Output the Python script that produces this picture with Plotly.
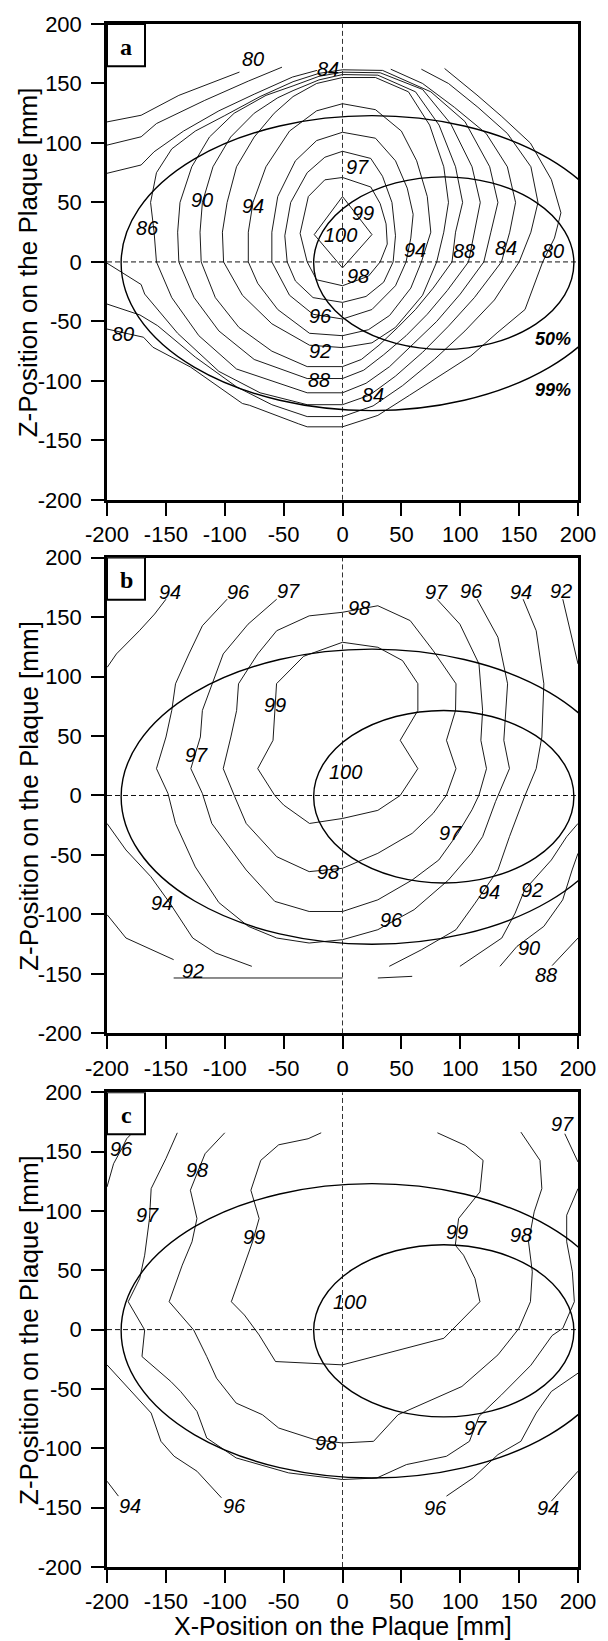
import plotly.graph_objects as go

# ---------------- data (positions in mm on the plaque) ----------------
TICKS = [-200, -150, -100, -50, 0, 50, 100, 150, 200]
TICK_LABELS = ["-200", "-150", "-100", "-50", "0", "50", "100", "150", "200"]

# isodose ellipses (centre x, centre z, half-width, half-height)
ELL99 = (25, -1, 213, 124)
ELL50 = (86, -1, 110.5, 72.5)

# ---- panel a contour lines ----
a99_x = [0, 25, 0, -24, 0]
a99_z = [55, 23, -5, 23, 55]
a98_x = [0, 24, 32, 37, 38, 32, 22, 0, -22, -30, -36, -29, -15, 0]
a98_z = [71, 63, 49, 32, 15, 0, -12, -20, -15, 0, 24, 55, 69, 71]
a97_x = [0, 24, 34, 42, 45, 43, 35, 20, 0, -25, -40, -47, -49, -44, -30, -15, 0]
a97_z = [93, 87, 72, 50, 22, 0, -17, -29, -34, -30, -16, 0, 22, 50, 75, 88, 93]
a96_x = [0, 28, 45, 55, 60, 58, 54, 45, 25, 0, -25, -45, -60, -60, -55, -40, -22, 0]
a96_z = [109, 104, 85, 62, 40, 20, 0, -20, -40, -48, -44, -28, 0, 25, 55, 85, 102, 109]
a94_x = [0, 28, 50, 63, 72, 75, 67, 58, 40, 22, 0, -28, -55, -72, -80, -80, -76, -65, -45, -22, 0]
a94_z = [133, 128, 110, 85, 55, 25, 0, -22, -45, -57, -62, -60, -40, -18, 0, 25, 50, 80, 110, 127, 133]
a92_x = [0, -22, -42, -58, -75, -90, -98, -102, -101, -85, -60, -28, 0, 25, 45, 68, 80, 86, 90, 86, 74, 56, 28, 0]
a92_z = [155, 150, 139, 125, 105, 80, 50, 25, 0, -28, -52, -70, -72, -68, -55, -28, 0, 25, 50, 80, 115, 143, 155, 155]
a90_x = [0, -20, -42, -55, -75, -95, -110, -119, -121, -120, -108, -88, -60, -30, 0, 16, 31, 47, 62, 77, 93, 96, 102, 96, 82, 62, 30, 0]
a90_z = [157.5, 153, 144, 138, 125, 105, 80, 50, 25, 0, -30, -55, -75, -88, -88, -82, -70, -55, -40, -22, 0, 25, 50, 80, 115, 143, 157, 157.5]
a88_x = [0, -20, -42, -65, -92, -113, -128, -138, -140, -139, -126, -105, -75, -30, 0, 18, 35, 54, 72, 89, 107, 112, 117, 110, 92, 68, 32, 0]
a88_z = [159.5, 156, 148, 140, 125, 105, 80, 50, 25, 0, -30, -58, -82, -98, -98, -91, -78, -62, -44, -24, 0, 25, 50, 80, 116, 145, 159, 159.5]
a86_x = [0, -20, -42, -70, -100, -125, -145, -158, -163, -160, -158, -145, -122, -90, -30, 0, 20, 40, 60, 80, 100, 120, 126, 132, 125, 104, 75, 34, 0]
a86_z = [161.5, 158.5, 151.5, 139, 123, 110, 95, 75, 50, 25, 0, -30, -62, -90, -110, -110, -102, -88, -69, -50, -27, 0, 25, 50, 80, 118, 143, 161, 161.5]
a84u_x = [-200, -171, -160, -135, -105, -75, -42.5, -21.7]
a84u_z = [74.5, 81.5, 92.6, 110, 127, 141, 155.4, 161]
a84_x = [-200, -171, -168, -140, -105, -70, -30, 0, 23, 45, 68, 90, 112, 135, 142, 147, 140, 122, 95, 68, 41]
a84_z = [-1, -19, -27, -60, -92, -110, -120, -120, -112, -96, -76, -54, -30, 0, 25, 50, 80, 108, 130, 150, 162]
a82u_x = [-200, -171, -158, -117, -80, -51.4]
a82u_z = [98.2, 105.2, 116.3, 135.8, 152, 163.7]
a82_x = [-200, -172, -157, -125, -90, -60, -30, 0, 26, 51, 78, 104, 129, 150, 160, 166, 160, 140, 115, 90, 67]
a82_z = [-35.4, -44.6, -53.6, -80, -105, -120, -130, -130, -121, -104, -82, -58, -32, 0, 25, 50, 80, 108, 130, 150, 162]
a80u_x = [-200, -171, -139, -110, -87.5]
a80u_z = [117.7, 123.3, 140, 151, 159.6]
a80_x = [-200, -176, -169, -161, -129, -85, -79, -37.5, -30, 0, 30, 57, 84, 109, 132, 155, 170, 180, 185.5, 177.4, 159.6, 135.3, 114.2, 86.7]
a80_z = [-56.4, -62, -63.3, -71.7, -88.4, -119, -120.5, -136, -138.6, -138.6, -129, -112, -95, -79, -59, -40, 0, 20, 41.3, 69.2, 99.9, 122.2, 140.3, 162.6]

a_lab_text = ["80", "84", "90", "94", "86", "97", "99", "100", "94", "88", "84", "80", "98", "96", "92", "88", "84", "80"]
a_lab_x = [-76.4, -12, -119.4, -76.4, -165.3, 13, 17.2, -1.4, 61.7, 103.3, 138.5, 179, 13, -18.9, -18.9, -20.3, 25.6, -186.1]
a_lab_z = [170.7, 162.3, 52.2, 46.6, 28.5, 80, 41, 22.9, 10.3, 9, 12, 9.2, -11.7, -45.2, -74.5, -99.6, -112.2, -60.5]

# ---- panel b contour lines ----
b99_x = [0, 30, 51, 64, 64, 49, 64, 49, 30, 0, -28, -50, -57.5, -72, -59, -57.5, -56, -33, 0]
b99_z = [128.8, 124.6, 113.4, 94, 71.5, 46.4, 22.6, 0, -12.5, -19.3, -23.5, -8, 0, 22.6, 46.4, 71.5, 94, 117, 128.8]
b98_x = [0, 30, 57.5, 77, 96.4, 96, 88.3, 96.4, 88.3, 77, 59.2, 30, 0, -28.3, -55.9, -81.8, -91.5, -101.3, -94.8, -89.9, -88.3, -72, -55.9, -28.3, 0]
b98_z = [154, 159.5, 147, 121.8, 93.9, 71.5, 46.4, 22.6, 0.3, -15, -31.8, -48.6, -61.2, -64, -51.4, -23.5, -1, 22.6, 49.2, 71.5, 93.9, 119, 138.5, 151, 154]
b97_x = [-55.9, -80.2, -101.3, -111, -119, -120.7, -128.8, -119, -111, -95, -81.8, -57.5, -28.3, 0, 30, 59.2, 81.8, 98, 110, 115.9, 122.3, 117.5, 119, 115.9, 99.7, 80.2]
b97_z = [165, 144, 119, 93.9, 71.5, 49.2, 22.6, 1.7, -23.5, -45, -62.6, -89, -97.5, -97.5, -87.7, -71, -54.2, -31.8, -12, 0.3, 22.6, 46.4, 71.5, 110.6, 144, 165]
b96_x = [-98, -119, -130.4, -141.8, -145, -149.9, -158, -148.2, -141.8, -125, -105, -80, -55.9, -28.3, 0, 30, 60.8, 90, 109.4, 119, 130, 141.8, 137, 138.5, 140.2, 132, 114.3]
b96_z = [165, 142.7, 119, 93.9, 71.5, 49.2, 22.6, 1.7, -23.5, -60, -90, -110, -119.8, -124, -121.2, -112.8, -96, -71, -48.6, -34.6, -5, 22.6, 46.4, 71.5, 93.9, 133, 165]
b94a_x = [-199.8, -192, -172.5, -159.6, -149.9]
b94a_z = [107.8, 119, 138.5, 152.5, 165]
b94b_x = [-200, -183.9, -162.8, -146.6, -127.2, -107.7, -77]
b94b_z = [-23.5, -45.8, -68.2, -90.5, -119.8, -132.4, -143.6]
b94c_x = [39.7, 67.2, 96.4, 112.6, 132, 141.8, 155, 164.5, 169.3, 171, 164.5, 153.4]
b94c_z = [-143.6, -129.6, -112.8, -90.5, -62.6, -34.6, 0, 22.6, 49.2, 93.9, 138.5, 165]
b92a_x = [187.1, 195, 200]
b92a_z = [165, 133, 110.6]
b92b_x = [-199.8, -183.9, -143.4]
b92b_z = [-100.3, -119.8, -138]
b92c_x = [-143.4, 0]
b92c_z = [-153.4, -153.4]
b92d_x = [30, 59.2]
b92d_z = [-153.4, -152]
b92e_x = [99.7, 119, 135.3, 146.6, 154.7, 177.4, 190.4, 200]
b92e_z = [-143.6, -131, -119.8, -98.9, -79.3, -54.2, -34.6, -23.5]
b90_x = [133.7, 148.2, 171, 187, 195, 200]
b90_z = [-143.6, -126.8, -110, -87.7, -62.6, -48.6]
b88_x = [178, 185.5, 200]
b88_z = [-143, -135.2, -119.8]

b_lab_text = ["94", "96", "97", "98", "97", "96", "94", "92", "99", "97", "100", "97", "98", "94", "92", "94", "96", "90", "88", "92"]
b_lab_x = [-146.6, -88.3, -46.2, 13.8, 80.2, 109.4, 151.5, 185.5, -57.5, -124, 2.4, 91.6, -12.2, 124, 161.2, -153.1, 41.3, 158, 172.6, -127.2]
b_lab_z = [170.7, 170.7, 172, 158, 170.7, 172, 170.7, 172, 75.7, 33.8, 19.8, -31.8, -64, -80.7, -79.3, -90.5, -104.5, -128.2, -150.6, -147.8]

# ---- panel c contour lines ----
c96a_x = [-200, -194.4, -187.5, -183.3, -177.8]
c96a_z = [120.2, 139.8, 152.4, 160.8, 166.4]
c97_x = [-140.3, -150, -162.5, -163.9, -168, -172.2, -182, -168, -170.3, -145.8, -137.5, -123.6, -115.3, -90.3, -45.8, 0, 29.2, 54.3, 88.3, 107.8, 115.9, 135, 160, 178, 187.1, 196.9, 195.2, 190.4, 190.4, 200]
c97_z = [165.8, 144, 118.8, 93.6, 62.7, 43.1, 23.5, -0.3, -22.7, -43.7, -52.1, -68.9, -91.3, -108.1, -120.7, -126.3, -125, -113.7, -106.7, -94.1, -73.1, -55, -30, -5, 1.1, 23.5, 48.7, 74, 96.4, 118.8]
c97b_x = [188.8, 200]
c97b_z = [165, 141.2]
c98_x = [-100, -116.7, -123.6, -129.2, -123.6, -127.8, -136.1, -147.2, -126.4, -115.3, -107, -90.3, -68, -54.2, -23.6, 0, 26.4, 47.2, 101.4, 132, 149.9, 159.6, 161.2, 158, 162.8, 169.3, 167.7, 151.5]
c98_z = [165.8, 148.2, 131.4, 117.4, 93.6, 74, 54.3, 23.5, -0.3, -22.7, -40.9, -61.9, -71.7, -82.9, -92.7, -95.5, -94.1, -71.7, -47.9, -21.3, 1.1, 23.5, 48.7, 74, 99.2, 118.8, 142.6, 166.4]
c99_x = [-18.1, -29.2, -54.2, -69.4, -77.8, -70.8, -76.4, -83.3, -94.4, -83.3, -70.8, -56.9, 0, 86.1, 102.8, 116.7, 112.5, 102.8, 95.8, 98.6, 116.7, 119.4, 104.2, 80.6]
c99_z = [165.8, 160.8, 155.7, 142.6, 117.4, 93.6, 74, 54.3, 23.5, 12.3, -4.5, -26.9, -29.7, -7.3, 9.5, 23.5, 43.1, 62.7, 71.1, 93.6, 116, 142.6, 155.2, 165.8]
c96b_x = [-200, -182, -162.5, -154.2, -143, -123.6, -102.8]
c96b_z = [-29.7, -49.3, -70.3, -94.1, -106.7, -119.3, -141.7]
c94a_x = [-200, -190.3]
c94a_z = [-127.7, -140.3]
c96c_x = [88.3, 111, 132, 151.5, 164.5, 177.4, 200]
c96c_z = [-140.3, -124.9, -105.3, -94.1, -70.3, -52.1, -36.7]
c94b_x = [177.4, 200]
c94b_z = [-144.5, -119.3]

c_lab_text = ["96", "98", "97", "99", "99", "98", "97", "100", "98", "97", "96", "94", "96", "94"]
c_lab_x = [-187.5, -123.6, -165.3, -75, 97.2, 151.5, 187.1, 5.6, -13.9, 112.6, -91.7, -180.6, 78.6, 174.2]
c_lab_z = [152.4, 134.2, 96.4, 78.2, 82.4, 79.6, 173.4, 23.5, -95.5, -82.9, -148.7, -148.7, -150.1, -150.1]

PANEL_LETTERS = ["a", "b", "c"]

# ---------------- figure ----------------
lines_a = [(a99_x, a99_z), (a98_x, a98_z), (a97_x, a97_z), (a96_x, a96_z), (a94_x, a94_z),
           (a92_x, a92_z), (a90_x, a90_z), (a88_x, a88_z), (a86_x, a86_z), (a84u_x, a84u_z),
           (a84_x, a84_z), (a82u_x, a82u_z), (a82_x, a82_z), (a80u_x, a80u_z), (a80_x, a80_z)]
lines_b = [(b99_x, b99_z), (b98_x, b98_z), (b97_x, b97_z), (b96_x, b96_z), (b94a_x, b94a_z),
           (b94b_x, b94b_z), (b94c_x, b94c_z), (b92a_x, b92a_z), (b92b_x, b92b_z), (b92c_x, b92c_z),
           (b92d_x, b92d_z), (b92e_x, b92e_z), (b90_x, b90_z), (b88_x, b88_z)]
lines_c = [(c96a_x, c96a_z), (c97_x, c97_z), (c97b_x, c97b_z), (c98_x, c98_z), (c99_x, c99_z),
           (c96b_x, c96b_z), (c94a_x, c94a_z), (c96c_x, c96c_z), (c94b_x, c94b_z)]

panels = [
    ("x", "y", lines_a, a_lab_text, a_lab_x, a_lab_z),
    ("x2", "y2", lines_b, b_lab_text, b_lab_x, b_lab_z),
    ("x3", "y3", lines_c, c_lab_text, c_lab_x, c_lab_z),
]

FONT = "Liberation Sans, Arial, Helvetica, sans-serif"
fig = go.Figure()
annotations = []
shapes = []

for i, (xr, yr, lines, lt, lx, lz) in enumerate(panels):
    for xs, zs in lines:
        fig.add_trace(go.Scatter(x=xs, y=zs, mode="lines", xaxis=xr, yaxis=yr,
                                 line=dict(color="#000000", width=0.9),
                                 hoverinfo="skip", showlegend=False))
    for t, x, z in zip(lt, lx, lz):
        annotations.append(dict(x=x, y=z, xref=xr, yref=yr, text="<i>%s</i>" % t,
                                showarrow=False, font=dict(family=FONT, size=20, color="black")))
    # dashed cross-hair
    shapes.append(dict(type="line", xref=xr, yref=yr, x0=0, x1=0, y0=-200, y1=200,
                       line=dict(color="#333333", width=1, dash="5px,3px")))
    shapes.append(dict(type="line", xref=xr, yref=yr, x0=-200, x1=200, y0=0, y1=0,
                       line=dict(color="#111111", width=1, dash="5px,3px")))
    for (cx, cz, ax, bz) in (ELL99, ELL50):
        shapes.append(dict(type="circle", xref=xr, yref=yr, x0=cx - ax, x1=cx + ax,
                           y0=cz - bz, y1=cz + bz, line=dict(color="black", width=1.4)))
    # panel letter box
    shapes.append(dict(type="rect", xref=xr, yref=yr, x0=-200, x1=-167.7, y0=164.5, y1=200,
                       line=dict(color="black", width=2), fillcolor="white"))
    annotations.append(dict(x=-183.8, y=181, xref=xr, yref=yr, text="<b>%s</b>" % PANEL_LETTERS[i],
                            showarrow=False,
                            font=dict(family="Liberation Serif, Times New Roman, serif", size=24, color="black")))

annotations.append(dict(x=179, y=-64.5, xref="x", yref="y", text="<b><i>50%</i></b>", showarrow=False,
                        font=dict(family=FONT, size=18, color="black")))
annotations.append(dict(x=179, y=-108, xref="x", yref="y", text="<b><i>99%</i></b>", showarrow=False,
                        font=dict(family=FONT, size=18, color="black")))

# axis titles
domains = [(0.6916, 1.0), (0.3458, 0.6542), (0.0, 0.3077)]
for d0, d1 in domains:
    annotations.append(dict(x=-0.167, y=(d0 + d1) / 2, xref="paper", yref="paper",
                            text="Z-Position on the Plaque [mm]", textangle=-90, showarrow=False,
                            xanchor="center", yanchor="middle",
                            font=dict(family=FONT, size=26, color="black")))
annotations.append(dict(x=0.502, y=-0.0385, xref="paper", yref="paper",
                        text="X-Position on the Plaque [mm]", showarrow=False,
                        xanchor="center", yanchor="middle",
                        font=dict(family=FONT, size=25, color="black")))

axis_common = dict(range=[-200, 200], tickmode="array", tickvals=TICKS, ticktext=TICK_LABELS,
                   showline=True, linewidth=2.5, linecolor="black", mirror=True,
                   ticks="outside", ticklen=13, tickwidth=2, tickcolor="black",
                   showgrid=False, zeroline=False, fixedrange=True,
                   tickfont=dict(family=FONT, size=22, color="black"))

layout = dict(width=608, height=1641, margin=dict(l=107, r=21, t=17, b=74),
              paper_bgcolor="white", plot_bgcolor="white", showlegend=False,
              annotations=annotations, shapes=shapes)
names = [("xaxis", "yaxis", "x", "y"), ("xaxis2", "yaxis2", "x2", "y2"), ("xaxis3", "yaxis3", "x3", "y3")]
for (xa, ya, xr, yr), (d0, d1) in zip(names, domains):
    layout[xa] = dict(axis_common, domain=[0, 1], anchor=yr, ticklabelstandoff=0)
    layout[ya] = dict(axis_common, domain=[d0, d1], anchor=xr, ticklabelstandoff=5)

fig.update_layout(**layout)
fig.write_html("out.html")
